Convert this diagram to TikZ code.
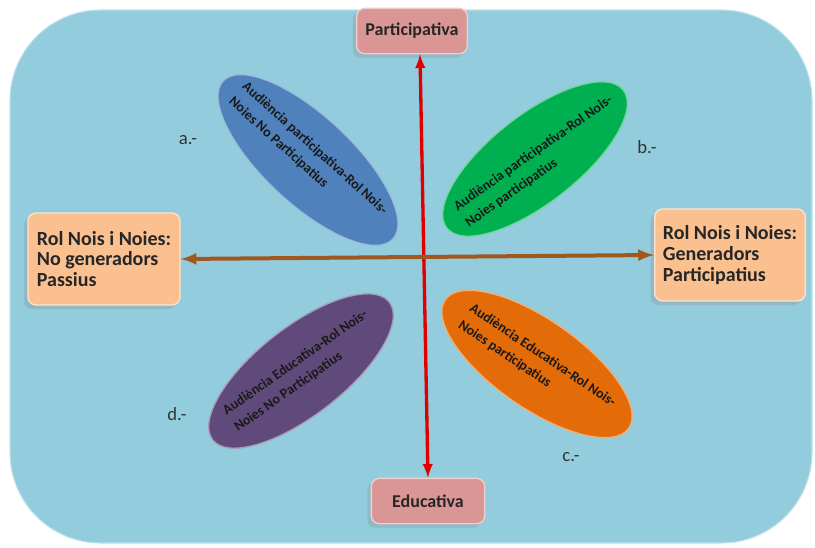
\documentclass[tikz,border=0pt]{standalone}
\usepackage{fontspec}
\setmainfont{Carlito}
\usetikzlibrary{shapes.geometric,shadows}

\definecolor{hintergrund}{HTML}{93CDDD}
\definecolor{rosa}{HTML}{D99694}
\definecolor{pfirsich}{HTML}{FAC090}
\definecolor{blau}{HTML}{4F81BD}
\definecolor{gruen}{HTML}{00B050}
\definecolor{orangeton}{HTML}{E36C09}
\definecolor{lila}{HTML}{604A7B}
\definecolor{braun}{HTML}{A0581E}
\definecolor{rot}{HTML}{E00000}

\begin{document}
\begin{tikzpicture}
				[
				x=0.75pt, y=-0.75pt, >=latex,
				%Kaesten oben, unten, links, rechts
				kasten/.style={draw=white!55!#1, line width=1pt, fill=#1, rounded corners=6pt,
					drop shadow={shadow xshift=-3pt, shadow yshift=-3pt, opacity=0.25},
					inner sep=0pt, align=left, text=black!85,
					font=\fontsize{15}{15.5}\selectfont\bfseries},
				%Ellipsen
				blatt/.style={ellipse, draw=white!45!#1, line width=1pt, fill=#1, inner sep=0pt,
					minimum width=168pt, minimum height=66pt},
				blatttext/.style={align=left, text=black!90, inner sep=0pt,
					font=\fontsize{10.5}{15}\selectfont\bfseries},
				buchstabe/.style={text=black!80, font=\fontsize{14}{16}\selectfont}
				]
				
				\useasboundingbox (0,0) rectangle (815,547);
				
				%Hintergrund
				\fill[white] (0,0) rectangle (815,547);
				\filldraw[fill=hintergrund, draw=hintergrund!60!white, line width=0.8pt, rounded corners=68pt] (10,10) rectangle (812,543);
				
				%Achsen-Kaesten
				\node[kasten=rosa, minimum width=83pt, minimum height=34pt, align=center, font=\fontsize{13.5}{15}\selectfont\bfseries] (oben) at (412,31) {Participativa};
				\node[kasten=rosa, minimum width=85pt, minimum height=34pt, align=center, font=\fontsize{13.5}{15}\selectfont\bfseries] (unten) at (428,501) {Educativa};
				\node[kasten=pfirsich, minimum width=114pt, minimum height=69pt] (links) at (104,259) {Rol Nois i Noies:\\No generadors\\Passius};
				\node[kasten=pfirsich, minimum width=113pt, minimum height=69pt] (rechts) at (730,255) {Rol Nois i Noies:\\Generadors\\Participatius};
				
				%Ellipse a
				\node[blatt=blau, rotate=-43, minimum width=174pt] (ea) at (308,160) {};
				\node[blatttext, rotate=-42] (ta) at ([yshift=3pt]ea.center) {Audiència participativa-Rol Nois-\\Noies No Participatius};
				%Ellipse b
				\node[blatt=gruen, rotate=38] (eb) at (535,159) {};
				\node[blatttext, rotate=35] (tb) at ([xshift=3pt,yshift=-2pt]eb.center) {Audiència participativa-Rol Nois-\\Noies participatius};
				%Ellipse c
				\node[blatt=orangeton, rotate=-35] (ec) at (537,364) {};
				\node[blatttext, rotate=-34] (tc) at (ec) {Audiència Educativa-Rol Nois-\\Noies participatius};
				%Ellipse d
				\node[blatt=lila, rotate=38] (ed) at (301,371) {};
				\node[blatttext, rotate=35] (td) at (ed) {Audiència Educativa-Rol Nois-\\Noies No Participatius};
				
				%Buchstaben
				\node[buchstabe] (la) at (188,140) {a.-};
				\node[buchstabe] (lb) at (647,147) {b.-};
				\node[buchstabe] (lc) at (571,457) {c.-};
				\node[buchstabe] (ld) at (177,414) {d.-};
				
				%Pfeil vertikal
				\draw[latex-latex, rot, line width=2.5pt] ([xshift=6pt]oben.south) -- (unten.north);
				%Pfeil horizontal
				\draw[latex-latex, braun, line width=3pt] (links.east) -- (rechts.west);
			\end{tikzpicture}
\end{document}
